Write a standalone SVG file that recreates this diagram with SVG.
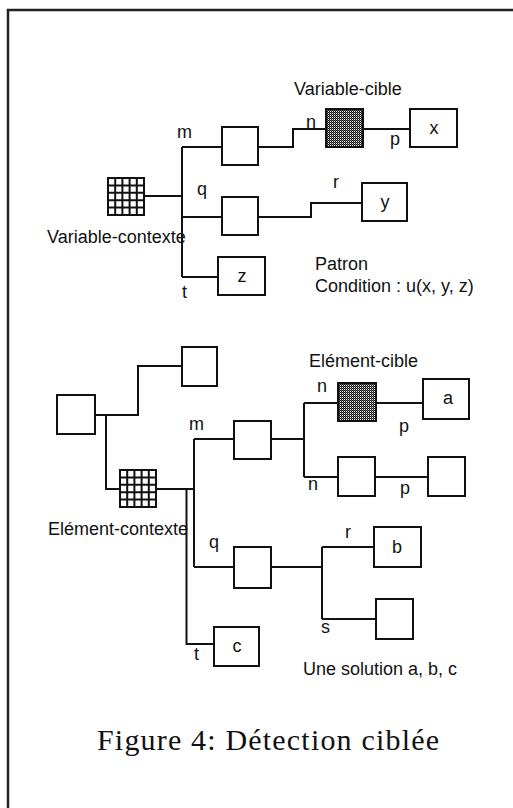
<svg xmlns="http://www.w3.org/2000/svg" width="513" height="808" viewBox="0 0 513 808">
<style>
.frame{fill:none;stroke:#222;stroke-width:2.5}
.box{fill:#fff;stroke:#111;stroke-width:2}
.tgt{fill:url(#dots);stroke:#111;stroke-width:2}
.wire{fill:none;stroke:#111;stroke-width:2}
.lbl{font-family:"Liberation Sans",Arial,sans-serif;font-size:18px;fill:#111}
.mid{text-anchor:middle}
.cap{font-family:"Liberation Serif","Times New Roman",serif;font-size:30px;fill:#111}
</style>
<defs>
<pattern id="dots" width="2" height="2" patternUnits="userSpaceOnUse">
<rect width="2" height="2" fill="#fff"/>
<rect width="1" height="1" fill="#111"/>
<rect x="1" y="1" width="1" height="1" fill="#111"/>
<rect x="1" y="0" width="1" height="1" fill="#666"/>
</pattern>
<symbol id="grid" viewBox="0 0 38 39" preserveAspectRatio="none">
<rect x="1" y="1" width="36" height="37" fill="#fff" stroke="#111" stroke-width="2"/>
<path d="M8.2 1V38M15.4 1V38M22.6 1V38M29.8 1V38M1 8.4H37M1 15.8H37M1 23.2H37M1 30.6H37" stroke="#111" stroke-width="2" fill="none"/>
</symbol>
</defs>
<rect class="frame" x="8" y="10" width="620" height="900"/>

<g id="connectors">
<path class="wire" d="M145 196H182M182 147V277M182 147H222M258 147H293V129H326M363 129H410M182 217H222M258 217H311V203H362M182 277H218"/>
<path class="wire" d="M95 415H138V366H182M106 415V489H120M157 489H194M194 439V567M186.5 489V644H219M194 439H234M271 439H304M304 403V477M304 403H338M376 403H425M304 477H338M375 477H428M194 567H234M271 567H322M322 547V619M322 547H378M322 619H376"/>
</g>

<g id="variable-contexte"><use href="#grid" x="107" y="177" width="38" height="39"/><text class="lbl" x="47" y="243">Variable-contexte</text></g>
<g id="node-m1"><rect class="box" x="222" y="127" width="36" height="38"/></g>
<g id="variable-cible"><rect class="tgt" x="326" y="109" width="37" height="38"/><text class="lbl" x="294" y="95">Variable-cible</text></g>
<g id="node-x"><rect class="box" x="410" y="109" width="47" height="38"/><text class="lbl mid" x="434" y="134">x</text></g>
<g id="node-q1"><rect class="box" x="222" y="197" width="36" height="38"/></g>
<g id="node-y"><rect class="box" x="362" y="183" width="45" height="38"/><text class="lbl mid" x="385" y="208">y</text></g>
<g id="node-z"><rect class="box" x="218" y="257" width="47" height="38"/><text class="lbl mid" x="242" y="282">z</text></g>

<g id="labels-top">
<text class="lbl" x="177" y="138">m</text>
<text class="lbl" x="306" y="128">n</text>
<text class="lbl" x="390" y="145">p</text>
<text class="lbl" x="197" y="195">q</text>
<text class="lbl" x="333" y="188">r</text>
<text class="lbl" x="182" y="298">t</text>
<text class="lbl" x="315" y="270">Patron</text>
<text class="lbl" x="315" y="292">Condition : u(x, y, z)</text>
</g>

<g id="node-tl1"><rect class="box" x="57" y="395" width="38" height="39"/></g>
<g id="node-tl2"><rect class="box" x="182" y="347" width="35" height="39"/></g>
<g id="element-contexte"><use href="#grid" x="119" y="469" width="38" height="39"/><text class="lbl" x="48" y="535">Elément-contexte</text></g>
<g id="node-m2"><rect class="box" x="234" y="421" width="37" height="38"/></g>
<g id="element-cible"><rect class="tgt" x="338" y="383" width="38" height="38"/><text class="lbl" x="309" y="367">Elément-cible</text></g>
<g id="node-a"><rect class="box" x="423" y="379" width="46" height="40"/><text class="lbl mid" x="448" y="404">a</text></g>
<g id="node-n2"><rect class="box" x="338" y="457" width="37" height="39"/></g>
<g id="node-p2"><rect class="box" x="428" y="457" width="37" height="39"/></g>
<g id="node-q2"><rect class="box" x="234" y="547" width="37" height="41"/></g>
<g id="node-b"><rect class="box" x="374" y="527" width="47" height="40"/><text class="lbl mid" x="397" y="553">b</text></g>
<g id="node-s"><rect class="box" x="376" y="599" width="37" height="40"/></g>
<g id="node-c"><rect class="box" x="214" y="627" width="45" height="39"/><text class="lbl mid" x="237" y="652">c</text></g>

<g id="labels-bottom">
<text class="lbl" x="189" y="430">m</text>
<text class="lbl" x="317" y="392">n</text>
<text class="lbl" x="399" y="432">p</text>
<text class="lbl" x="308" y="490">n</text>
<text class="lbl" x="400" y="494">p</text>
<text class="lbl" x="209" y="548">q</text>
<text class="lbl" x="345" y="538">r</text>
<text class="lbl" x="321" y="633">s</text>
<text class="lbl" x="194" y="660">t</text>
<text class="lbl" x="303" y="675">Une solution a, b, c</text>
</g>

<text class="cap" x="97" y="750" textLength="342" lengthAdjust="spacing">Figure 4: Détection ciblée</text>
</svg>
